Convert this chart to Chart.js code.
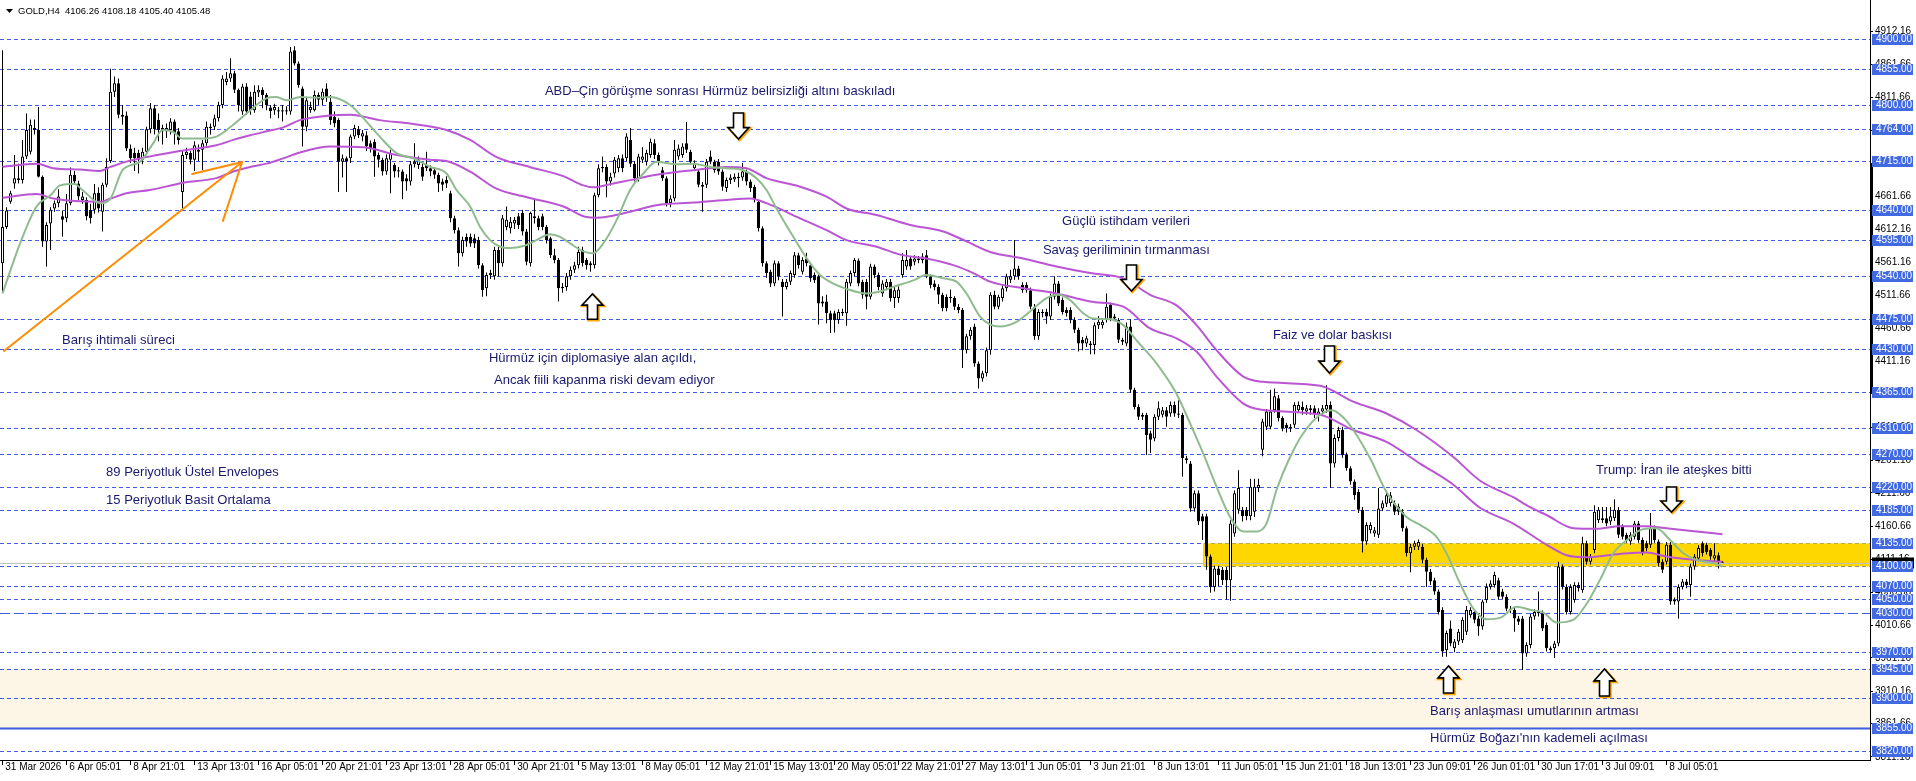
<!DOCTYPE html>
<html><head><meta charset="utf-8">
<script src="https://cdn.jsdelivr.net/npm/chart.js@4.4.1/dist/chart.umd.min.js"></script>
<style>html,body{margin:0;padding:0;background:#fff;overflow:hidden}canvas{display:block}</style>
</head><body>
<canvas id="c" width="1916" height="781"></canvas>
<script>
// ---------- DATA ----------
const symbol = 'GOLD,H4';
const open = [4560,4615,4653,4681,4689,4686,4722,4729,4765,4762,4691,4593,4620,4643,4651,4631,4628,4651,4694,4681,4656,4656,4641,4641,4667,4638,4679,4715,4820,4833,4785,4784,4734,4727,4727,4717,4729,4763,4795,4777,4765,4760,4762,4775,4760,4668,4724,4727,4717,4732,4732,4742,4765,4767,4780,4800,4835,4840,4848,4823,4790,4828,4813,4792,4819,4823,4815,4796,4792,4792,4792,4790,4790,4883,4863,4825,4767,4792,4792,4815,4808,4825,4805,4782,4777,4714,4719,4719,4752,4763,4752,4754,4742,4744,4724,4717,4699,4717,4709,4701,4699,4689,4684,4710,4709,4706,4709,4704,4701,4694,4684,4686,4666,4628,4610,4575,4600,4600,4598,4595,4557,4522,4545,4540,4580,4560,4615,4613,4620,4631,4636,4608,4560,4631,4628,4631,4615,4598,4572,4565,4524,4524,4540,4550,4557,4580,4565,4560,4557,4663,4704,4706,4684,4696,4704,4719,4719,4747,4711,4689,4717,4714,4724,4742,4724,4701,4689,4651,4658,4722,4724,4742,4729,4704,4699,4679,4679,4722,4714,4714,4699,4674,4686,4687,4689,4690,4699,4684,4676,4653,4613,4560,4547,4529,4560,4532,4524,4532,4542,4572,4547,4567,4557,4542,4540,4499,4502,4484,4484,4474,4484,4484,4529,4545,4564,4532,4532,4509,4555,4542,4514,4524,4532,4507,4507,4542,4555,4567,4562,4567,4565,4572,4540,4529,4524,4512,4509,4507,4507,4494,4489,4428,4449,4464,4408,4385,4393,4428,4512,4494,4507,4522,4535,4540,4552,4527,4527,4519,4494,4449,4486,4486,4479,4509,4529,4504,4489,4489,4474,4459,4444,4438,4438,4436,4466,4466,4474,4497,4479,4474,4444,4438,4464,4368,4342,4330,4330,4302,4294,4327,4330,4337,4332,4345,4332,4330,4264,4256,4188,4211,4176,4176,4115,4069,4097,4095,4095,4079,4150,4186,4186,4186,4176,4183,4219,4277,4312,4312,4337,4355,4325,4315,4310,4315,4337,4342,4335,4340,4340,4330,4335,4338,4345,4256,4295,4307,4269,4249,4229,4213,4186,4138,4155,4150,4148,4188,4195,4196,4196,4191,4183,4158,4120,4130,4130,4130,4110,4092,4079,4062,4034,3973,4006,3976,3986,3988,4001,4026,4031,4021,4009,4049,4069,4072,4079,4062,4054,4034,4034,4021,4021,3968,3981,4024,4029,4029,4011,3976,3976,3983,4100,4069,4031,4049,4072,4064,4135,4107,4125,4170,4170,4173,4168,4173,4186,4160,4148,4138,4145,4165,4140,4135,4133,4158,4138,4107,4107,4133,4049,4047,4069,4077,4072,4100,4112,4135,4133,4125,4112,4117,4106.26];
const high = [4883,4645,4670,4724,4711,4747,4787,4778,4778,4797,4693,4622,4645,4655,4672,4640,4665,4705,4700,4685,4668,4660,4650,4680,4675,4682,4719,4855,4843,4840,4800,4790,4740,4735,4732,4735,4767,4803,4800,4787,4770,4772,4780,4778,4765,4730,4735,4730,4745,4740,4747,4775,4772,4785,4805,4845,4850,4871,4852,4825,4832,4833,4820,4830,4830,4827,4818,4800,4802,4797,4800,4798,4888,4889,4866,4828,4812,4805,4822,4819,4825,4833,4815,4790,4780,4725,4722,4755,4770,4768,4762,4760,4746,4748,4728,4720,4725,4732,4712,4706,4702,4695,4715,4742,4722,4712,4729,4708,4705,4697,4688,4692,4670,4632,4614,4600,4605,4605,4604,4600,4560,4546,4550,4585,4585,4633,4646,4630,4630,4636,4641,4612,4638,4656,4632,4635,4618,4600,4582,4568,4530,4545,4555,4562,4585,4585,4568,4563,4667,4710,4722,4710,4697,4721,4724,4725,4757,4765,4715,4726,4736,4732,4749,4748,4728,4706,4692,4663,4747,4740,4742,4774,4732,4716,4703,4683,4718,4731,4717,4718,4702,4690,4695,4696,4697,4712,4702,4687,4679,4656,4616,4563,4550,4564,4563,4536,4536,4549,4577,4576,4569,4576,4561,4546,4543,4510,4512,4488,4488,4490,4491,4536,4549,4568,4567,4535,4536,4559,4558,4546,4534,4536,4536,4524,4525,4575,4580,4571,4572,4571,4575,4580,4543,4534,4528,4515,4513,4520,4510,4498,4492,4453,4463,4468,4411,4397,4432,4516,4518,4512,4526,4544,4550,4595,4556,4531,4531,4523,4498,4490,4490,4491,4514,4540,4533,4508,4493,4493,4478,4462,4448,4450,4442,4470,4480,4476,4514,4500,4483,4477,4447,4470,4475,4371,4346,4333,4333,4306,4331,4350,4342,4342,4350,4350,4352,4333,4268,4260,4215,4215,4180,4180,4118,4101,4101,4099,4099,4170,4215,4246,4190,4190,4233,4233,4233,4324,4339,4368,4370,4360,4328,4318,4316,4349,4350,4350,4345,4345,4344,4340,4345,4375,4350,4300,4312,4312,4273,4252,4232,4217,4190,4167,4167,4160,4219,4200,4213,4213,4200,4195,4187,4161,4134,4139,4141,4134,4113,4096,4083,4065,4038,4003,4018,3990,4005,4023,4040,4038,4035,4025,4050,4074,4079,4092,4083,4066,4058,4040,4037,4025,4025,3985,4028,4035,4062,4033,4015,3979,3987,4107,4103,4073,4073,4076,4076,4145,4139,4119,4193,4190,4190,4190,4190,4202,4190,4164,4151,4152,4169,4169,4144,4139,4181,4162,4141,4111,4137,4137,4053,4073,4081,4081,4104,4119,4132,4138,4136,4128,4135,4121,4108.18];
const low = [4516,4612,4650,4673,4681,4681,4718,4725,4755,4690,4585,4555,4580,4638,4645,4600,4622,4648,4680,4655,4650,4625,4620,4635,4637,4608,4675,4712,4812,4780,4770,4730,4712,4700,4696,4710,4725,4757,4755,4745,4740,4750,4755,4740,4740,4643,4718,4710,4700,4715,4701,4738,4755,4762,4775,4795,4830,4835,4818,4790,4785,4785,4785,4788,4812,4795,4792,4780,4785,4780,4775,4785,4785,4860,4826,4737,4760,4788,4790,4800,4800,4805,4770,4766,4668,4690,4668,4712,4748,4750,4745,4730,4728,4691,4705,4693,4694,4666,4690,4690,4657,4670,4678,4705,4703,4685,4700,4692,4688,4668,4670,4674,4622,4605,4555,4570,4585,4585,4583,4552,4509,4510,4536,4535,4540,4555,4610,4605,4612,4612,4602,4557,4555,4620,4610,4610,4590,4568,4560,4502,4515,4518,4535,4545,4552,4555,4550,4547,4552,4660,4698,4660,4678,4690,4698,4698,4715,4706,4684,4684,4712,4708,4720,4718,4708,4685,4646,4645,4654,4717,4720,4727,4710,4700,4675,4638,4674,4710,4697,4694,4670,4668,4680,4683,4675,4685,4678,4668,4652,4608,4555,4538,4524,4525,4534,4479,4520,4527,4538,4552,4543,4555,4532,4530,4467,4494,4469,4454,4455,4468,4480,4465,4525,4540,4525,4506,4490,4505,4537,4519,4509,4519,4502,4492,4500,4538,4550,4550,4557,4560,4560,4537,4522,4519,4498,4487,4487,4500,4489,4484,4401,4423,4444,4403,4370,4380,4388,4421,4490,4490,4502,4517,4530,4535,4535,4515,4515,4490,4444,4444,4478,4468,4474,4505,4495,4482,4479,4469,4454,4426,4428,4433,4422,4422,4460,4461,4470,4472,4472,4439,4436,4434,4363,4338,4322,4322,4269,4272,4290,4322,4326,4312,4327,4327,4325,4236,4256,4183,4183,4163,4140,4095,4060,4062,4070,4072,4050,4048,4145,4180,4168,4170,4170,4175,4213,4267,4307,4308,4333,4320,4305,4303,4304,4310,4333,4330,4330,4330,4325,4320,4330,4333,4219,4250,4290,4265,4245,4224,4201,4181,4121,4133,4150,4145,4143,4184,4190,4191,4178,4178,4153,4115,4091,4125,4125,4105,4069,4072,4057,4027,3963,3963,3979,3970,3981,3984,3996,4022,4014,3995,4004,4045,4065,4068,4050,4050,4032,4029,4001,4011,3943,3963,3976,4019,4024,4002,3971,3969,3961,3979,4065,4027,4027,4045,4062,4060,4103,4103,4120,4166,4166,4161,4163,4169,4143,4141,4136,4133,4141,4136,4117,4123,4128,4136,4100,4090,4103,4042,4042,4021,4065,4067,4054,4095,4108,4115,4118,4110,4108,4097,4105.40];
const close = [4615,4640,4666,4689,4686,4722,4762,4770,4762,4691,4593,4618,4641,4651,4661,4626,4651,4694,4684,4661,4661,4631,4628,4666,4643,4679,4706,4820,4833,4785,4782,4734,4719,4719,4717,4729,4763,4795,4763,4762,4760,4765,4775,4757,4747,4724,4729,4717,4739,4729,4742,4767,4767,4780,4800,4840,4840,4848,4823,4800,4828,4790,4792,4820,4823,4815,4800,4791,4797,4790,4790,4792,4881,4863,4830,4767,4807,4797,4815,4808,4820,4810,4777,4772,4714,4719,4714,4752,4765,4754,4757,4737,4734,4722,4717,4699,4719,4727,4699,4699,4684,4684,4710,4714,4717,4691,4704,4699,4694,4681,4679,4681,4628,4610,4575,4595,4593,4590,4590,4557,4519,4542,4542,4580,4560,4628,4626,4623,4626,4618,4608,4562,4636,4628,4615,4615,4595,4572,4565,4522,4522,4540,4550,4557,4577,4560,4557,4557,4663,4704,4706,4684,4691,4717,4719,4704,4752,4711,4689,4722,4722,4727,4744,4724,4714,4689,4651,4658,4732,4734,4737,4732,4714,4711,4679,4676,4714,4714,4701,4699,4676,4686,4690,4691,4691,4699,4684,4674,4656,4613,4560,4545,4529,4560,4540,4524,4532,4545,4572,4557,4565,4560,4537,4534,4499,4502,4484,4474,4474,4486,4486,4532,4545,4565,4529,4512,4509,4555,4542,4524,4529,4532,4507,4519,4520,4565,4565,4555,4567,4565,4570,4542,4527,4524,4512,4492,4492,4509,4494,4489,4428,4449,4459,4408,4385,4393,4428,4512,4494,4509,4522,4540,4540,4552,4540,4519,4519,4494,4449,4486,4484,4479,4509,4529,4499,4486,4484,4474,4459,4438,4438,4446,4436,4466,4471,4471,4494,4476,4476,4444,4441,4464,4368,4342,4327,4327,4299,4292,4327,4340,4337,4327,4345,4332,4330,4264,4261,4188,4211,4168,4168,4115,4069,4097,4087,4079,4079,4165,4211,4219,4176,4176,4221,4221,4224,4320,4335,4335,4358,4325,4310,4310,4312,4345,4345,4337,4340,4337,4332,4335,4340,4345,4256,4295,4307,4269,4249,4229,4208,4186,4138,4163,4163,4155,4188,4196,4208,4208,4183,4183,4158,4120,4130,4135,4137,4110,4092,4077,4062,4031,3971,3999,3983,3986,4001,4019,4034,4034,4019,4009,4047,4069,4074,4087,4054,4054,4036,4036,4021,4016,3968,3981,4024,4031,4031,4006,3976,3973,3983,4100,4069,4031,4069,4072,4067,4135,4107,4115,4183,4186,4173,4165,4176,4186,4148,4145,4140,4148,4165,4140,4122,4128,4158,4140,4105,4095,4133,4047,4047,4069,4077,4072,4100,4115,4128,4120,4122,4115,4117,4107,4105.48];

// 15-period simple MA [bar, price]
const sma15 = [[0,4514],[4.4,4590],[8.5,4646],[12,4663],[14.4,4678],[18,4680],[20,4671],[24.4,4651],[27,4658],[30,4701],[34.4,4714],[37.7,4742],[40,4762],[42.7,4759],[45,4749],[49.4,4749],[53.5,4752],[57.7,4770],[61,4787],[66,4810],[68.5,4812],[71,4807],[74.4,4812],[78.5,4811],[81.9,4812],[86.9,4800],[90.2,4780],[94.3,4752],[98.5,4727],[102.7,4719],[106.9,4706],[111,4696],[113.5,4671],[116.9,4646],[119.4,4615],[121.9,4595],[124.4,4585],[126.9,4583],[130.2,4586],[133.5,4595],[136.9,4604],[139.4,4600],[141.9,4590],[145.2,4578],[147.7,4575],[150.2,4590],[153.5,4625],[156.9,4671],[160.2,4696],[163.5,4714],[168.5,4710],[172.7,4711],[176.9,4706],[181,4704],[185.2,4701],[188.5,4689],[191,4671],[193.5,4643],[197.7,4600],[201.9,4560],[204.4,4542],[207.7,4529],[211,4521],[216,4514],[219.4,4517],[222.7,4524],[227.7,4534],[231,4542],[235.2,4537],[238.5,4532],[241,4514],[244.4,4479],[246.9,4467],[249.4,4464],[253.5,4471],[257.7,4491],[261,4507],[263.9,4512],[266.9,4504],[270.2,4484],[272.7,4476],[276.9,4475],[280.2,4466],[283.5,4443],[288.5,4408],[293.5,4362],[296.9,4317],[300.2,4271],[303.5,4221],[306.9,4175],[310.2,4153],[313.5,4153],[316,4165],[318.5,4216],[321.9,4266],[325.2,4302],[329.4,4330],[332.5,4337],[335,4327],[337.7,4307],[341.9,4264],[346,4213],[351,4175],[354.4,4163],[358.5,4145],[361,4120],[364.4,4074],[367.7,4036],[371,4020],[374.4,4022],[378.5,4039],[382,4034],[385.2,4030],[388.5,4015],[392.7,4019],[396,4043],[399.4,4080],[402.7,4120],[406.5,4142],[409.4,4155],[412.5,4158],[413.5,4158],[416.9,4140],[420.2,4120],[423.5,4110],[427.7,4105],[430,4100]];
// 89-period exponential envelopes [bar, price]
const envUpper = [[0,4706],[8.5,4711],[12.7,4704],[19.4,4702],[24.4,4700],[27,4706],[31,4714],[36.9,4722],[45.2,4731],[53.5,4739],[57.7,4747],[61.9,4754],[66,4760],[70.2,4766],[74.4,4777],[81.9,4784],[86.9,4785],[94.3,4777],[102.7,4771],[111,4762],[116.9,4747],[123.5,4721],[131.8,4706],[140.2,4692],[145.2,4678],[147.7,4675],[152.7,4681],[156.9,4686],[163.5,4694],[172.7,4701],[181,4706],[186,4704],[191,4689],[199.4,4676],[206,4661],[211,4643],[218.5,4633],[226.9,4618],[235.2,4608],[241,4593],[246.9,4577],[255.2,4567],[263.5,4555],[271.9,4545],[280.2,4537],[286.9,4512],[293.5,4496],[298.5,4466],[303.5,4428],[310.2,4388],[315.2,4380],[329.4,4374],[337.7,4350],[346,4332],[353.5,4307],[362.7,4266],[369.4,4230],[377.7,4205],[381.9,4190],[386,4178],[392.7,4158],[398.5,4157],[404.4,4161],[411,4161],[416,4158],[423.5,4153],[430,4149]];
const envLower = [[0,4659],[8.5,4665],[12.7,4658],[24.4,4653],[27,4658],[31,4666],[36.9,4671],[45.2,4682],[53.5,4689],[57.7,4699],[61.9,4706],[66,4711],[70.2,4719],[74.4,4728],[81.9,4737],[90.2,4736],[98.5,4724],[106.9,4717],[111,4715],[116.9,4699],[123.5,4673],[131.8,4659],[140.2,4646],[146,4630],[148.5,4629],[156.9,4638],[163.5,4648],[172.7,4652],[181,4656],[186.9,4658],[191,4651],[199.4,4628],[206,4610],[211,4595],[218.5,4585],[224.4,4573],[231,4567],[237.7,4557],[242.7,4545],[246.9,4532],[255.2,4522],[263.5,4514],[271.9,4502],[280.2,4494],[286.9,4461],[293.5,4446],[298.5,4426],[303.5,4388],[310.2,4347],[314.4,4338],[329.4,4330],[337.7,4307],[346,4289],[354.4,4256],[362.7,4224],[369.4,4189],[377.7,4165],[386,4133],[391,4117],[396,4114],[404.4,4119],[411,4121],[416,4115],[422.7,4110],[430,4107]];

const xTickBars = [0,16,32,48,64,80,96,112,128,144,160,176,192,208,224,240,256,272,288,304,320,336,352,368,384,400,416];
const xTickLabels = ['31 Mar 2026','6 Apr 05:01','8 Apr 21:01','13 Apr 13:01','16 Apr 05:01','20 Apr 21:01','23 Apr 13:01','28 Apr 05:01','30 Apr 21:01','5 May 13:01','8 May 05:01','12 May 21:01','15 May 13:01','20 May 05:01','22 May 21:01','27 May 13:01','1 Jun 05:01','3 Jun 21:01','8 Jun 13:01','11 Jun 05:01','15 Jun 21:01','18 Jun 13:01','23 Jun 09:01','26 Jun 01:01','30 Jun 17:01','3 Jul 09:01','8 Jul 05:01'];
const yTickValues = [4912.16,4861.66,4811.66,4761.16,4711.66,4661.66,4612.16,4561.16,4511.66,4460.66,4411.16,4361.66,4310.66,4261.16,4211.66,4160.66,4111.16,4060.66,4010.66,3961.16,3910.16,3861.66,3811.16];
const levels = [4900,4855,4800,4764,4715,4640,4595,4540,4475,4430,4365,4310,4270,4220,4185,4135,4100,4070,4050,4030,3970,3945,3900,3855,3820];
const dashDotLevel = 4030, solidLevel = 3855;
const zoneHigh = 3945, zoneLow = 3855;          // light zone
const bandHigh = 4135, bandLow = 4100, bandStartBar = 300.1; // yellow band
const axisMarkHigh = 4712, axisMarkLow = 4363;

const notes = [
 ['ABD–Çin görüşme sonrası Hürmüz belirsizliği altını baskıladı',135.6,4820.4],
 ['Barış ihtimali süreci',14.9,4443.4],
 ['Hürmüz için diplomasiye alan açıldı,',121.6,4416.1],
 ['Ancak fiili kapanma riski devam ediyor',122.9,4382.8],
 ['Güçlü istihdam verileri',264.9,4623.2],
 ['Savaş geriliminin tırmanması',260.1,4580],
 ['Faiz ve dolar baskısı',317.6,4450.3],
 ['89 Periyotluk Üstel Envelopes',25.9,4243.2],
 ['15 Periyotluk Basit Ortalama',25.9,4200.8],
 ['Trump: İran ile ateşkes bitti',398.4,4246.3],
 ['Barış anlaşması umutlarının artması',356.9,3880.7],
 ["Hürmüz Boğazı'nın kademeli açılması",356.9,3839.8]
];
// [bar, tip price, tail price]
const arrows = [[183.9,4748.3,4787.8],[147.25,4513.2,4475],[282.1,4517.8,4557.2],[331.6,4393.4,4434.3],[417,4182.6,4220.5],[361.25,3948.9,3908],[400.25,3944.4,3903.4]];
const orangeLines = [[[0.375,4426.8],[59.9,4713.4]],[[47.4,4695.2],[59.9,4713.4]],[[55.1,4624],[59.9,4713.4]]];

// ---------- CHART ----------
const FONT = "'Liberation Sans', Arial, sans-serif";
const N = close.length;
const idx = Array.from({length:N},(_,i)=>i);
const last = N-1;

function drawArrow(ctx,cx,yTip,yTail){
  const dir = yTip>yTail?1:-1;
  const h = Math.abs(yTip-yTail), headH=h*0.44, sw=5, hw=10.5;
  const yb = yTip-dir*headH;
  const path=()=>{ctx.beginPath();ctx.moveTo(cx-sw,yTail);ctx.lineTo(cx+sw,yTail);ctx.lineTo(cx+sw,yb);ctx.lineTo(cx+hw,yb);ctx.lineTo(cx,yTip);ctx.lineTo(cx-hw,yb);ctx.lineTo(cx-sw,yb);ctx.closePath();};
  ctx.save();
  ctx.lineJoin='miter';
  ctx.translate(1,1); path(); ctx.strokeStyle='#FFA500'; ctx.lineWidth=2.5; ctx.stroke();
  ctx.translate(-1,-1); path(); ctx.fillStyle='#fff'; ctx.fill(); ctx.strokeStyle='#000'; ctx.lineWidth=1.6; ctx.stroke();
  ctx.restore();
}

const overlay = {
  id:'overlay',
  beforeDatasetsDraw(chart){
    const {ctx, chartArea:a, scales:{x,y}} = chart;
    ctx.save();
    ctx.beginPath(); ctx.rect(a.left,a.top,a.right-a.left,a.bottom-a.top); ctx.clip();
    let y1=y.getPixelForValue(zoneHigh), y2=y.getPixelForValue(zoneLow);
    ctx.fillStyle='#FDF5E6'; ctx.fillRect(a.left,y1,a.right-a.left,y2-y1);
    levels.forEach(v=>{
      const py=Math.round(y.getPixelForValue(v))+0.5;
      ctx.beginPath(); ctx.strokeStyle='#3d5fe0';
      if(v===solidLevel){ctx.setLineDash([]);ctx.lineWidth=2;}
      else if(v===dashDotLevel){ctx.setLineDash([10,4]);ctx.lineWidth=1;}
      else {ctx.setLineDash([4,3]);ctx.lineWidth=1;}
      ctx.moveTo(a.left,py); ctx.lineTo(a.right,py); ctx.stroke();
    });
    ctx.setLineDash([]);
    const bx=x.getPixelForValue(bandStartBar);
    y1=y.getPixelForValue(bandHigh); y2=y.getPixelForValue(bandLow);
    ctx.fillStyle='#FFD700'; ctx.fillRect(bx,y1,a.right-bx,y2-y1);
    const cp=Math.round(y.getPixelForValue(close[last]))+0.5;
    ctx.strokeStyle='#c0c0c0'; ctx.lineWidth=1; ctx.beginPath(); ctx.moveTo(a.left,cp); ctx.lineTo(a.right,cp); ctx.stroke();
    ctx.restore();
  },
  afterDatasetsDraw(chart){
    const {ctx, chartArea:a, scales:{x,y}} = chart;
    ctx.save();
    ctx.beginPath(); ctx.rect(a.left,a.top,a.right-a.left,a.bottom-a.top); ctx.clip();
    ctx.strokeStyle='#FF8C00'; ctx.lineWidth=2; ctx.lineCap='round';
    orangeLines.forEach(l=>{ctx.beginPath();ctx.moveTo(x.getPixelForValue(l[0][0]),y.getPixelForValue(l[0][1]));ctx.lineTo(x.getPixelForValue(l[1][0]),y.getPixelForValue(l[1][1]));ctx.stroke();});
    arrows.forEach(r=>drawArrow(ctx,Math.round(x.getPixelForValue(r[0]))+0.5,y.getPixelForValue(r[1]),y.getPixelForValue(r[2])));
    ctx.fillStyle='#191970'; ctx.font='13px '+FONT; ctx.textBaseline='middle'; ctx.textAlign='left';
    notes.forEach(n=>ctx.fillText(n[0],x.getPixelForValue(n[1]),y.getPixelForValue(n[2])));
    ctx.restore();
  },
  afterDraw(chart){
    const {ctx, chartArea:a, scales:{y}} = chart;
    ctx.save();
    ctx.fillStyle='#000';
    const m1=y.getPixelForValue(axisMarkHigh), m2=y.getPixelForValue(axisMarkLow);
    ctx.fillRect(a.right,m1,3,m2-m1);
    ctx.font='10px '+FONT; ctx.textBaseline='middle'; ctx.textAlign='left';
    const cpy=y.getPixelForValue(close[last]);
    ctx.fillStyle='#000'; ctx.fillRect(a.right+2,Math.round(cpy)-5.5,42,11);
    levels.forEach(v=>{
      const py=Math.round(y.getPixelForValue(v));
      ctx.fillStyle='#4169E1'; ctx.fillRect(a.right+2,py-5,41,11);
      ctx.fillStyle='#fff'; ctx.fillText(v.toFixed(2),a.right+6,py+0.5);
    });
    ctx.fillStyle='#000';
    ctx.beginPath(); ctx.moveTo(6,9); ctx.lineTo(13,9); ctx.lineTo(9.5,13); ctx.closePath(); ctx.fill();
    ctx.font='9.5px '+FONT;
    ctx.fillText(symbol+'  '+[open[last],high[last],low[last],close[last]].map(v=>v.toFixed(2)).join(' '),18,11);
    ctx.restore();
  }
};

new Chart(document.getElementById('c'),{
  type:'bar',
  data:{datasets:[
    {type:'line',data:sma15.map(p=>({x:p[0],y:p[1]})),borderColor:'#8FBC8F',borderWidth:2,pointRadius:0,cubicInterpolationMode:'monotone',order:1},
    {type:'line',data:envUpper.map(p=>({x:p[0],y:p[1]})),borderColor:'#BA55D3',borderWidth:2,pointRadius:0,cubicInterpolationMode:'monotone',order:1},
    {type:'line',data:envLower.map(p=>({x:p[0],y:p[1]})),borderColor:'#BA55D3',borderWidth:2,pointRadius:0,cubicInterpolationMode:'monotone',order:1},
    {type:'bar',data:idx.map(i=>({x:i,y:[open[i],close[i]]})),backgroundColor:idx.map(i=>close[i]>=open[i]?'#ffffff':'#000000'),borderColor:'#000',borderWidth:1,borderSkipped:false,barThickness:3,grouped:false,minBarLength:1,inflateAmount:0,order:2},
    {type:'bar',data:idx.map(i=>({x:i,y:[low[i],high[i]]})),backgroundColor:'#000',borderWidth:0,barThickness:1,grouped:false,inflateAmount:0,order:3}
  ]},
  options:{
    responsive:false, animation:false, devicePixelRatio:1, events:[],
    layout:{padding:0},
    plugins:{legend:{display:false},tooltip:{enabled:false}},
    scales:{
      x:{type:'linear',min:-0.625,max:466.875,offset:false,bounds:'data',
        grid:{display:true,offset:false,drawOnChartArea:false,drawTicks:true,tickLength:5,color:'#000'},
        border:{display:true,color:'#000',width:1},
        ticks:{autoSkip:false,maxRotation:0,minRotation:0,align:'start',padding:-4,color:'#000',font:{family:FONT,size:10},
          callback:(v)=>{const k=xTickBars.indexOf(v);return k>=0?' '+xTickLabels[k]:'';}},
        afterBuildTicks:s=>{s.ticks=xTickBars.map(v=>({value:v}));},
        afterFit:s=>{s.height=21;s.paddingLeft=0;s.paddingRight=0;}
      },
      y:{type:'linear',position:'right',min:3806.4,max:4959.2,bounds:'data',
        grid:{display:true,offset:false,drawOnChartArea:false,drawTicks:true,tickLength:3,color:'#000'},
        border:{display:true,color:'#000',width:1},
        ticks:{padding:2,color:'#000',font:{family:FONT,size:10},callback:v=>Number(v).toFixed(2)},
        afterBuildTicks:s=>{s.ticks=yTickValues.map(v=>({value:v}));},
        afterFit:s=>{s.width=46;s.paddingTop=0;s.paddingBottom=0;}
      }
    }
  },
  plugins:[overlay]
});
</script>
</body></html>
